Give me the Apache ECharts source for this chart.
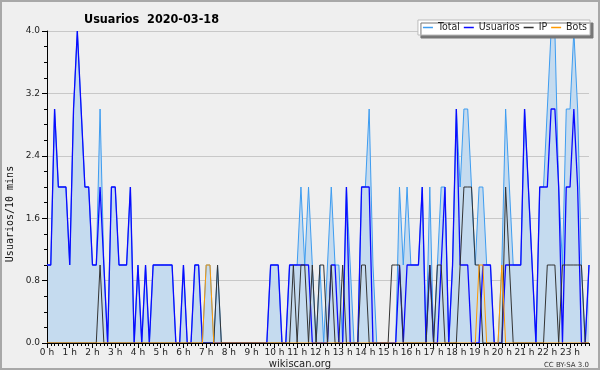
<!DOCTYPE html>
<html><head><meta charset="utf-8">
<script src="https://cdn.jsdelivr.net/npm/echarts/dist/echarts.min.js"></script>
<style>html,body{margin:0;padding:0;background:#efefef}#c{width:600px;height:370px}</style>
</head><body><div id="c"></div>
<script>
// 10-minute slots, 0:00 .. 23:50
const hourLabels = ['0 h','1 h','2 h','3 h','4 h','5 h','6 h','7 h','8 h','9 h','10 h','11 h','12 h','13 h','14 h','15 h','16 h','17 h','18 h','19 h','20 h','21 h','22 h','23 h'];
const yTicks = [0, 0.8, 1.6, 2.4, 3.2, 4.0];
const slots = [];
for (let h = 0; h < 24; h++) for (let m = 0; m < 60; m += 10) slots.push(h + ':' + (m < 10 ? '0' : '') + m);

const total = [
 1,1,3,2,2,2,1,3,4,3,2,2,1,1,3,1,0,2,2,1,1,1,2,0,
 1,0,1,0,1,1,1,1,1,1,0,0,1,0,0,1,1,0,1,1,0,1,0,0,
 0,0,0,0,0,0,0,0,0,0,0,1,1,1,0,0,1,1,1,2,1,2,1,0,
 1,0,1,2,1,1,0,2,1,0,0,2,2,3,1,0,0,0,0,0,0,2,1,2,
 1,1,1,2,0,2,0,1,2,2,0,1,3,2,3,3,2,1,2,2,1,1,0,0,
 1,3,2,1,1,1,3,2,1,0,2,2,3,4,4,2,1,3,3,4,3,1,0,1];
const usuarios = [
 1,1,3,2,2,2,1,3,4,3,2,2,1,1,2,1,0,2,2,1,1,1,2,0,
 1,0,1,0,1,1,1,1,1,1,0,0,1,0,0,1,1,0,0,0,0,0,0,0,
 0,0,0,0,0,0,0,0,0,0,0,1,1,1,0,0,1,1,1,1,1,1,0,0,
 0,0,0,1,1,0,0,2,0,0,0,2,2,2,0,0,0,0,0,0,0,1,0,1,
 1,1,1,2,0,1,0,0,1,2,0,1,3,1,1,1,0,0,0,1,1,1,0,0,
 0,1,1,1,1,1,3,2,1,0,2,2,2,3,3,2,0,2,2,3,2,0,0,1];
const ip = [
 0,0,0,0,0,0,0,0,0,0,0,0,0,0,1,0,0,0,0,0,0,0,0,0,
 0,0,0,0,0,0,0,0,0,0,0,0,0,0,0,0,0,0,0,0,0,1,0,0,
 0,0,0,0,0,0,0,0,0,0,0,0,0,0,0,0,0,1,0,1,1,0,1,0,
 1,1,0,1,0,0,1,0,0,0,0,1,1,0,0,0,0,0,0,1,1,1,0,0,
 0,0,0,0,0,1,0,1,1,0,0,0,0,1,2,2,2,1,1,0,0,0,0,0,
 0,2,1,0,0,0,0,0,0,0,0,0,1,1,1,0,1,1,1,1,1,1,0,0];
const bots = [
 0,0,0,0,0,0,0,0,0,0,0,0,0,0,0,0,0,0,0,0,0,0,0,0,
 0,0,0,0,0,0,0,0,0,0,0,0,0,0,0,0,0,0,1,1,0,0,0,0,
 0,0,0,0,0,0,0,0,0,0,0,0,0,0,0,0,0,0,0,0,0,0,0,0,
 0,0,0,0,0,0,0,0,0,0,0,0,0,0,0,0,0,0,0,0,0,0,0,0,
 0,0,0,0,0,0,0,0,0,0,0,0,0,0,0,0,0,0,1,1,0,0,0,0,
 1,0,0,0,0,0,0,0,0,0,0,0,0,0,0,0,0,0,0,0,0,0,0,0];

const narrow = "'DejaVu Sans Condensed', 'DejaVu Sans', sans-serif";
const chart = echarts.init(document.getElementById('c'), null, {renderer: 'canvas'});
const axisBlack = {color: '#000', width: 1};
chart.setOption({
  animation: false,
  backgroundColor: '#efefef',
  textStyle: {fontFamily: 'DejaVu Sans'},
  title: {
    text: 'Usuarios  2020-03-18', left: 79, top: 8,
    textStyle: {fontFamily: narrow, fontWeight: 'bold', fontSize: 12.5, color: '#000'}
  },
  legend: {
    right: 10, top: 20, orient: 'horizontal',
    icon: 'rect', itemWidth: 10, itemHeight: 1.5, itemGap: 4,
    padding: [2, 3, 2, 5],
    backgroundColor: '#fff', borderColor: '#bbb', borderWidth: 1,
    shadowColor: '#777', shadowOffsetX: 3, shadowOffsetY: 3, shadowBlur: 0,
    textStyle: {fontFamily: narrow, fontSize: 10.5, color: '#222'},
    data: ['Total', 'Usuarios', 'IP', 'Bots']
  },
  grid: {left: 47, right: 11, top: 31, bottom: 27, containLabel: false},
  xAxis: [
    {
      type: 'category', data: slots, boundaryGap: false, z: 4,
      axisLine: {lineStyle: axisBlack},
      axisTick: {show: true, interval: 0, length: 3, lineStyle: axisBlack},
      axisLabel: {show: false}, splitLine: {show: false}
    },
    {
      type: 'category', data: slots, boundaryGap: false, position: 'bottom', z: 4,
      axisLine: {lineStyle: axisBlack},
      axisTick: {show: true, interval: 5, length: 5, lineStyle: axisBlack},
      axisLabel: {interval: 5, margin: 5, fontSize: 9, color: '#222', fontFamily: 'DejaVu Sans',
        formatter: (v, idx) => hourLabels[Math.round(idx / 6)]},
      splitLine: {show: false}
    }
  ],
  yAxis: {
    type: 'value', min: yTicks[0], max: yTicks[yTicks.length - 1], interval: yTicks[1], z: 3,
    axisLine: {show: true, lineStyle: axisBlack},
    axisTick: {show: true, length: 5, lineStyle: axisBlack},
    minorTick: {show: true, splitNumber: 4, length: 3, lineStyle: axisBlack},
    axisLabel: {fontSize: 9, color: '#222', margin: 7, formatter: v => v.toFixed(1)},
    splitLine: {show: true, lineStyle: {color: '#c8c8c8', width: 1}}
  },
  series: [
    {name: 'Total', type: 'line', data: total, showSymbol: false, symbol: 'none',
      lineStyle: {color: '#3d9cf0', width: 1}, itemStyle: {color: '#3d9cf0'},
      areaStyle: {color: '#c5dbef', opacity: 1}},
    {name: 'Usuarios', type: 'line', data: usuarios, showSymbol: false, symbol: 'none',
      lineStyle: {color: '#0a0aff', width: 1.3}, itemStyle: {color: '#0a0aff'}},
    {name: 'IP', type: 'line', data: ip, showSymbol: false, symbol: 'none',
      lineStyle: {color: '#333', width: 1}, itemStyle: {color: '#333'}},
    {name: 'Bots', type: 'line', data: bots, showSymbol: false, symbol: 'none',
      lineStyle: {color: '#ff9900', width: 1}, itemStyle: {color: '#ff9900'}}
  ],
  graphic: [
    {type: 'rect', shape: {x: 1, y: 1, width: 598, height: 368}, silent: true,
      style: {fill: 'none', stroke: '#a8a8a8', lineWidth: 2}},
    {type: 'text', x: 10, y: 214, rotation: Math.PI / 2, silent: true,
      style: {text: 'Usuarios/10 mins', fontFamily: 'DejaVu Sans Mono', fontSize: 10, fill: '#111',
        textAlign: 'center', textVerticalAlign: 'middle'}},
    {type: 'text', x: 300, y: 364, silent: true,
      style: {text: 'wikiscan.org', fontFamily: 'DejaVu Sans', fontSize: 10, fill: '#222',
        textAlign: 'center', textVerticalAlign: 'middle'}},
    {type: 'text', x: 589, y: 365, silent: true,
      style: {text: 'CC BY-SA 3.0', fontFamily: 'DejaVu Sans', fontSize: 7, fill: '#333',
        textAlign: 'right', textVerticalAlign: 'middle'}}
  ]
});
</script></body></html>
